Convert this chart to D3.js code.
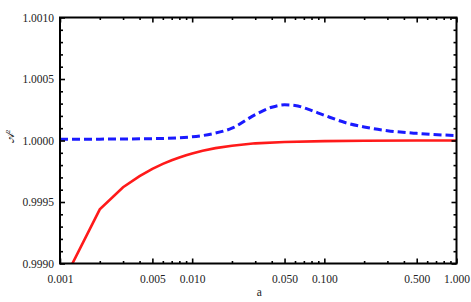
<!DOCTYPE html>
<html>
<head>
<meta charset="utf-8">
<script src="https://cdn.jsdelivr.net/npm/d3@7"></script>
<style>
  body { margin: 0; background: #fff; }
  svg { display: block; }
</style>
</head>
<body>
<div id="chart"></div>
<script>
const aRed  = [0.001, 0.002, 0.003, 0.004, 0.005, 0.006, 0.007, 0.008, 0.009, 0.010, 0.012, 0.015, 0.020, 0.030, 0.050, 0.100, 0.200, 0.500, 1.000];
const redValues = [0.99880, 0.99944, 0.99962, 0.99971, 0.99977, 0.99981, 0.99984, 0.999862, 0.99988, 0.999895, 0.999917, 0.999938, 0.999958, 0.999977, 0.999988, 0.999995, 0.999998, 1.0, 1.0];

const aBlue = [0.001, 0.002, 0.005, 0.010, 0.015, 0.020, 0.030, 0.040, 0.050, 0.060, 0.075, 0.100, 0.150, 0.200, 0.300, 0.500, 1.000];
const blueValues = [1.000010, 1.000011, 1.000015, 1.000030, 1.000060, 1.000100, 1.000210, 1.000270, 1.000290, 1.000285, 1.000255, 1.000205, 1.000140, 1.000110, 1.000080, 1.000058, 1.000040];

const xMajor = [0.001, 0.005, 0.010, 0.050, 0.100, 0.500, 1.000];
const xMinor = [0.002, 0.003, 0.004, 0.006, 0.007, 0.008, 0.009, 0.02, 0.03, 0.04, 0.06, 0.07, 0.08, 0.09, 0.2, 0.3, 0.4, 0.6, 0.7, 0.8, 0.9];
const yMajor = [0.9990, 0.9995, 1.0000, 1.0005, 1.0010];
const yMinor = [0.9991, 0.9992, 0.9993, 0.9994, 0.9996, 0.9997, 0.9998, 0.9999, 1.0001, 1.0002, 1.0003, 1.0004, 1.0006, 1.0007, 1.0008, 1.0009];

const serif = '"Liberation Serif", "Times New Roman", "DejaVu Serif", serif';

const fullWidth = 471;
const fullHeight = 302;
const margin = { top: 17.5, right: 14.5, bottom: 38.5, left: 60 };
const width = fullWidth - margin.left - margin.right;
const height = fullHeight - margin.top - margin.bottom;

const svg = d3.select('#chart')
  .append('svg')
  .attr('width', fullWidth)
  .attr('height', fullHeight);

const xScale = d3.scaleLog().domain([0.001, 1]).range([0, width]);
const yScale = d3.scaleLinear().domain([0.9990, 1.0010]).range([height, 0]);

const g = svg.append('g').attr('transform', `translate(${margin.left},${margin.top})`);

g.append('clipPath').attr('id', 'clip')
  .append('rect').attr('width', width).attr('height', height);

const redData = aRed.map((a, i) => [a, redValues[i]]);
const blueData = aBlue.map((a, i) => [a, blueValues[i]]);

const plot = g.append('g').attr('clip-path', 'url(#clip)');

plot.append('path')
  .datum(blueData)
  .attr('fill', 'none')
  .attr('stroke', '#1a1aff')
  .attr('stroke-width', 3)
  .attr('stroke-dasharray', '8,4')
  .attr('d', d3.line().x(d => xScale(d[0])).y(d => yScale(d[1])).curve(d3.curveMonotoneX));

plot.append('path')
  .datum(redData)
  .attr('fill', 'none')
  .attr('stroke', '#ff1a1a')
  .attr('stroke-width', 2.6)
  .attr('d', d3.line().x(d => xScale(d[0])).y(d => yScale(d[1])));

// frame ticks (inward), Mathematica style
function styleAxis(sel) {
  sel.select('.domain').remove();
  sel.selectAll('.tick line').attr('stroke', '#000').attr('stroke-width', 1.6);
  sel.selectAll('.tick text')
    .attr('fill', '#222')
    .style('font-family', serif)
    .style('font-size', '11.5px');
}

const fmt = d3.format('.3f');

g.append('g').attr('transform', `translate(0,${height})`)
  .call(d3.axisBottom(xScale).tickValues(xMajor).tickSize(-5).tickPadding(11).tickFormat(fmt))
  .call(styleAxis);
g.append('g').attr('transform', `translate(0,${height})`)
  .call(d3.axisBottom(xScale).tickValues(xMinor).tickSize(-2.5).tickFormat(''))
  .call(styleAxis);
g.append('g')
  .call(d3.axisTop(xScale).tickValues(xMajor).tickSize(-5).tickFormat(''))
  .call(styleAxis);
g.append('g')
  .call(d3.axisTop(xScale).tickValues(xMinor).tickSize(-2.5).tickFormat(''))
  .call(styleAxis);

g.append('g')
  .call(d3.axisLeft(yScale).tickValues(yMajor).tickSize(-5).tickPadding(6).tickFormat(d3.format('.4f')))
  .call(styleAxis);
g.append('g')
  .call(d3.axisLeft(yScale).tickValues(yMinor).tickSize(-3).tickFormat(''))
  .call(styleAxis);
g.append('g').attr('transform', `translate(${width},0)`)
  .call(d3.axisRight(yScale).tickValues(yMajor).tickSize(-5).tickFormat(''))
  .call(styleAxis);
g.append('g').attr('transform', `translate(${width},0)`)
  .call(d3.axisRight(yScale).tickValues(yMinor).tickSize(-3).tickFormat(''))
  .call(styleAxis);

g.append('rect')
  .attr('width', width)
  .attr('height', height)
  .attr('fill', 'none')
  .attr('stroke', '#000')
  .attr('stroke-width', 2);

// axis labels
svg.append('text')
  .attr('x', margin.left + width / 2 + 1)
  .attr('y', 296)
  .attr('text-anchor', 'middle')
  .style('font-family', serif)
  .style('font-size', '11.5px')
  .attr('fill', '#222')
  .text('a');

const yLabel = svg.append('text')
  .attr('transform', `translate(14,${margin.top + height / 2 - 4}) rotate(-90)`)
  .attr('text-anchor', 'middle')
  .style('font-family', serif)
  .style('font-size', '11px')
  .attr('fill', '#222');
yLabel.append('tspan').style('font-family', '"DejaVu Sans", "Noto Sans", serif').text('𝒜');
yLabel.append('tspan').attr('dy', -4).style('font-size', '7px').text('2');
</script>
</body>
</html>
